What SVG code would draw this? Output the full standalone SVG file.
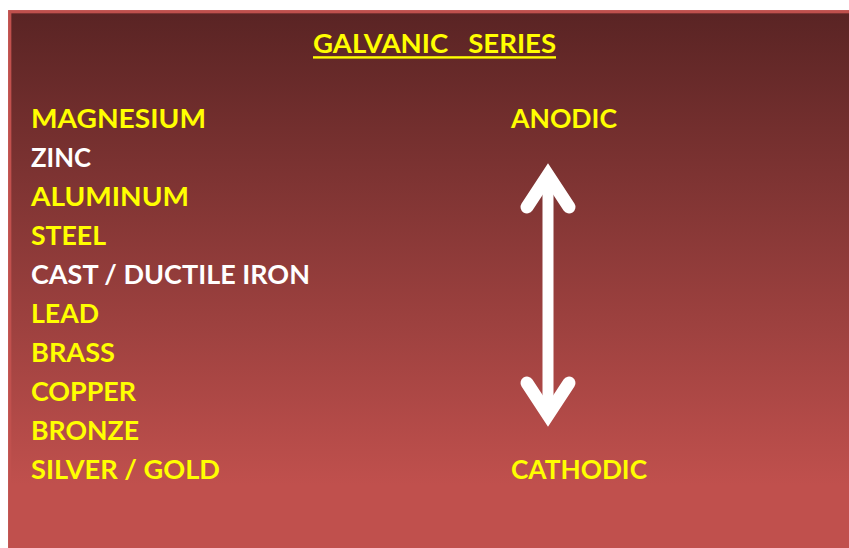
<svg xmlns="http://www.w3.org/2000/svg" width="849" height="548" viewBox="0 0 849 548">
  <defs>
    <linearGradient id="bg" x1="0" y1="13" x2="0" y2="485" gradientUnits="userSpaceOnUse">
      <stop offset="0" stop-color="#5a2424"/>
      <stop offset="1" stop-color="#c0504d"/>
    </linearGradient>
    <style>
      text { font-family: Lato, "Open Sans", "Liberation Sans", sans-serif; font-weight: bold; font-size: 26.5px; }
      .y { fill: #ffff00; }
      .w { fill: #ffffff; }
      .arrow { stroke: #ffffff; fill: none; }
    </style>
  </defs>
  <rect x="0" y="0" width="849" height="548" fill="#ffffff"/>
  <g id="panel">
    <rect x="9.7" y="11.7" width="850" height="550" fill="url(#bg)" stroke="#c0504d" stroke-width="3.3"/>
  </g>
  <g id="title">
    <text class="y" x="313" y="52.7" textLength="243" lengthAdjust="spacingAndGlyphs" xml:space="preserve">GALVANIC   SERIES</text>
    <rect x="313" y="56.2" width="243" height="2.4" fill="#ffff00"/>
  </g>
  <g id="metals">
    <text id="magnesium" class="y" x="31" y="128" textLength="175" lengthAdjust="spacingAndGlyphs">MAGNESIUM</text>
    <text id="zinc" class="w" x="31" y="167" textLength="60" lengthAdjust="spacingAndGlyphs">ZINC</text>
    <text id="aluminum" class="y" x="31" y="206" textLength="158" lengthAdjust="spacingAndGlyphs">ALUMINUM</text>
    <text id="steel" class="y" x="31" y="245" textLength="75" lengthAdjust="spacingAndGlyphs">STEEL</text>
    <text id="cast-iron" class="w" x="31" y="284" textLength="279" lengthAdjust="spacingAndGlyphs">CAST / DUCTILE IRON</text>
    <text id="lead" class="y" x="31" y="323" textLength="68" lengthAdjust="spacingAndGlyphs">LEAD</text>
    <text id="brass" class="y" x="31" y="362" textLength="84" lengthAdjust="spacingAndGlyphs">BRASS</text>
    <text id="copper" class="y" x="31" y="401" textLength="105" lengthAdjust="spacingAndGlyphs">COPPER</text>
    <text id="bronze" class="y" x="31" y="440" textLength="108" lengthAdjust="spacingAndGlyphs">BRONZE</text>
    <text id="silver-gold" class="y" x="31" y="479" textLength="189" lengthAdjust="spacingAndGlyphs">SILVER / GOLD</text>
  </g>
  <g id="labels">
    <text id="anodic" class="y" x="511" y="128" textLength="106" lengthAdjust="spacingAndGlyphs">ANODIC</text>
    <text id="cathodic" class="y" x="511" y="479" textLength="136" lengthAdjust="spacingAndGlyphs">CATHODIC</text>
  </g>
  <g id="connectors">
    <line class="arrow" x1="548" y1="178" x2="548" y2="412" stroke-width="11"/>
    <polyline class="arrow" points="527,207 548,175 569,207" stroke-width="13" stroke-linecap="round" stroke-linejoin="miter" stroke-miterlimit="10"/>
    <polyline class="arrow" points="527,383 548,415 569,383" stroke-width="13" stroke-linecap="round" stroke-linejoin="miter" stroke-miterlimit="10"/>
  </g>
</svg>
